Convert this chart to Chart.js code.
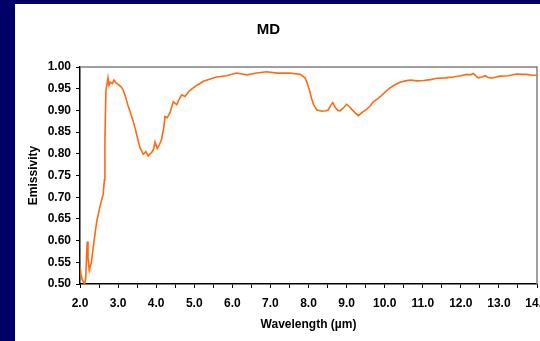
<!DOCTYPE html>
<html>
<head>
<meta charset="utf-8">
<script src="https://cdn.jsdelivr.net/npm/chart.js@4.4.0/dist/chart.umd.min.js"></script>
<style>
  html, body { margin: 0; padding: 0; width: 540px; height: 341px; overflow: hidden; background: #000066; }
  #panel { position: absolute; left: 15px; top: 4px; width: 525px; height: 337px; background: #fff; }
  #chart { position: absolute; left: 0; top: 0; }
</style>
</head>
<body>
<div id="panel"></div>
<canvas id="chart" width="560" height="341"></canvas>
<script>
// valores
const chartTitle = 'MD';
const wavelength = [
  2.00, 2.03, 2.06, 2.09, 2.12, 2.15, 2.17, 2.19, 2.21, 2.245, 2.30, 2.37, 2.44, 2.54, 2.61, 2.64, 2.655, 2.68,
  2.735, 2.76, 2.80, 2.85, 2.89, 2.95, 3.00, 3.07, 3.13, 3.20, 3.26, 3.33, 3.39, 3.45, 3.50, 3.575, 3.66, 3.73,
  3.79, 3.84, 3.88, 3.93, 3.97, 4.03, 4.09, 4.14, 4.20, 4.23, 4.29, 4.36, 4.45, 4.54, 4.60, 4.67, 4.76, 4.85,
  4.93, 5.05, 5.15, 5.24, 5.40, 5.59, 5.85, 6.11, 6.25, 6.38, 6.50, 6.64, 6.90, 7.17, 7.51, 7.78, 7.91, 7.97,
  8.02, 8.08, 8.13, 8.22, 8.35, 8.45, 8.52, 8.58, 8.64, 8.70, 8.77, 8.83, 8.92, 9.00, 9.07, 9.13, 9.22, 9.31,
  9.42, 9.53, 9.62, 9.70, 9.80, 9.90, 10.02, 10.14, 10.27, 10.40, 10.55, 10.67, 10.85, 11.02, 11.20, 11.37,
  11.60, 11.80, 12.00, 12.15, 12.25, 12.33, 12.40, 12.46, 12.55, 12.64, 12.72, 12.81, 12.92, 13.03, 13.25,
  13.47, 13.60, 13.73, 13.87, 14.00
];
const emissivity = [
  0.540, 0.520, 0.510, 0.505, 0.500, 0.512, 0.560, 0.598, 0.560, 0.532, 0.550, 0.600, 0.645, 0.684, 0.707, 0.740, 0.835, 0.945,
  0.975, 0.958, 0.965, 0.962, 0.970, 0.963, 0.960, 0.955, 0.948, 0.930, 0.911, 0.893, 0.877, 0.858, 0.840, 0.814, 0.799, 0.805,
  0.795, 0.800, 0.803, 0.810, 0.827, 0.812, 0.822, 0.833, 0.860, 0.886, 0.883, 0.894, 0.920, 0.913, 0.925, 0.936, 0.932, 0.943,
  0.949, 0.957, 0.962, 0.967, 0.972, 0.977, 0.980, 0.986, 0.984, 0.982, 0.984, 0.986, 0.989, 0.986, 0.986, 0.983, 0.975, 0.962,
  0.948, 0.928, 0.914, 0.901, 0.898, 0.899, 0.901, 0.911, 0.918, 0.907, 0.900, 0.899, 0.906, 0.914, 0.909, 0.903, 0.895, 0.888,
  0.896, 0.903, 0.910, 0.920, 0.926, 0.933, 0.943, 0.952, 0.959, 0.965, 0.968, 0.970, 0.968, 0.969, 0.971, 0.974,
  0.975, 0.977, 0.980, 0.983, 0.982, 0.985, 0.979, 0.975, 0.977, 0.980, 0.976, 0.974, 0.977, 0.979, 0.980,
  0.984, 0.983, 0.983, 0.981, 0.981
];
const xRange = [2, 14];
const yRange = [0.5, 1.0];

const FONT = '"Liberation Sans", Arial, sans-serif';

// marco gris arriba y a la derecha del área de trazado
const plotFrame = {
  id: 'plotFrame',
  beforeDatasetsDraw(chart) {
    const { ctx, chartArea: a } = chart;
    ctx.save();
    ctx.strokeStyle = '#808080';
    ctx.lineWidth = 1.5;
    ctx.beginPath();
    ctx.moveTo(a.left, a.top);
    ctx.lineTo(a.right, a.top);
    ctx.lineTo(a.right, a.bottom);
    ctx.stroke();
    ctx.restore();
  }
};

new Chart(document.getElementById('chart'), {
  type: 'line',
  data: {
    datasets: [{
      data: wavelength.map((w, i) => ({ x: w, y: emissivity[i] })),
      borderColor: '#ff6a10',
      borderWidth: 1.6,
      pointRadius: 0,
      tension: 0,
      fill: false
    }]
  },
  options: {
    responsive: false,
    animation: false,
    devicePixelRatio: 1,
    layout: { padding: { left: 0, right: 23, top: 0, bottom: 0 } },
    plugins: {
      legend: { display: false },
      tooltip: { enabled: false },
      title: {
        display: true,
        text: chartTitle,
        color: '#000',
        font: { family: FONT, size: 15, weight: 'bold' },
        padding: { top: 21, bottom: 28 }
      }
    },
    scales: {
      x: {
        type: 'linear',
        min: xRange[0],
        max: xRange[1],
        afterFit(scale) { scale.height = 57; },
        grid: { display: true, drawOnChartArea: false, drawTicks: true, tickLength: 4, color: '#000', tickWidth: 1 },
        border: { display: true, color: '#000', width: 1.5 },
        ticks: {
          stepSize: 0.5,
          autoSkip: false,
          maxRotation: 0,
          padding: 8,
          color: '#000',
          font: { family: FONT, size: 12, weight: 'bold' },
          callback: v => (Math.abs(v - Math.round(v)) < 1e-6 ? v.toFixed(1) : '')
        },
        title: {
          display: true,
          text: 'Wavelength (\u00b5m)',
          color: '#000',
          font: { family: FONT, size: 12, weight: 'bold' },
          padding: { top: 9, bottom: 9 }
        }
      },
      y: {
        min: yRange[0],
        max: yRange[1],
        afterFit(scale) { scale.width = 80; },
        grid: { display: true, drawOnChartArea: false, drawTicks: true, tickLength: 4, color: '#000', tickWidth: 1 },
        border: { display: true, color: '#000', width: 1.5 },
        ticks: {
          stepSize: 0.05,
          padding: 5,
          color: '#000',
          font: { family: FONT, size: 12, weight: 'bold' },
          callback: v => v.toFixed(2)
        },
        title: {
          display: true,
          text: 'Emissivity',
          color: '#000',
          font: { family: FONT, size: 12, weight: 'bold' },
          padding: { top: 26, bottom: 26 }
        }
      }
    }
  },
  plugins: [plotFrame]
});
</script>
</body>
</html>
